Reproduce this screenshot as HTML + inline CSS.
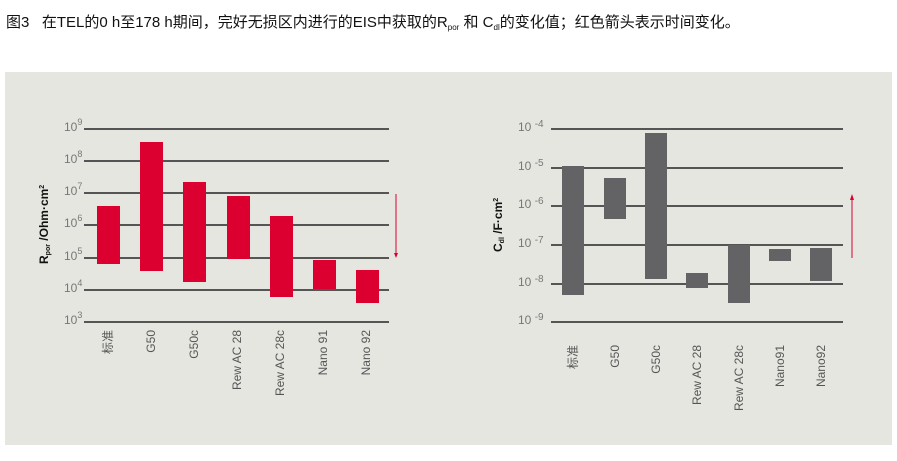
<!DOCTYPE html>
<html><head><meta charset="utf-8"><style>
body{margin:0;background:#fff;width:897px;height:461px;overflow:hidden}
svg{display:block;font-family:"Liberation Sans","Noto Sans CJK SC",sans-serif}
</style></head><body>
<svg width="897" height="461" viewBox="0 0 897 461" xmlns="http://www.w3.org/2000/svg">
<text x="6" y="27" font-size="15" fill="#111" xml:space="preserve">图3   在TEL的0 h至178 h期间，完好无损区内进行的EIS中获取的R<tspan font-size="8" dy="3">por</tspan><tspan dy="-3"> 和 C</tspan><tspan font-size="8" dy="3">dl</tspan><tspan dy="-3">的变化值；红色箭头表示时间变化。</tspan></text>
<rect x="5" y="72" width="887" height="373" fill="#e6e6e1"/>
<g stroke="#555" stroke-width="2">
<line x1="84" y1="129" x2="389" y2="129"/><line x1="84" y1="161" x2="389" y2="161"/><line x1="84" y1="193" x2="389" y2="193"/><line x1="84" y1="225" x2="389" y2="225"/><line x1="84" y1="258" x2="389" y2="258"/><line x1="84" y1="290" x2="389" y2="290"/><line x1="84" y1="322" x2="389" y2="322"/>
<line x1="551" y1="129" x2="843" y2="129"/><line x1="551" y1="168" x2="843" y2="168"/><line x1="551" y1="206" x2="843" y2="206"/><line x1="551" y1="245" x2="843" y2="245"/><line x1="551" y1="284" x2="843" y2="284"/><line x1="551" y1="322" x2="843" y2="322"/>
</g>
<g fill="#dc0030">
<rect x="97" y="206" width="23" height="58"/><rect x="140" y="142" width="23" height="129"/><rect x="183" y="182" width="23" height="100"/><rect x="227" y="196" width="23" height="63"/><rect x="270" y="216" width="23" height="81"/><rect x="313" y="260" width="23" height="29"/><rect x="356" y="270" width="23" height="33"/>
</g>
<line x1="396" y1="194" x2="396" y2="254" stroke="#dc0030" stroke-width="1"/><polygon points="394,253 398,253 396,258" fill="#dc0030"/>
<g fill="#636365">
<rect x="562" y="166" width="22" height="129"/><rect x="604" y="178" width="22" height="41"/><rect x="645" y="133" width="22" height="146"/><rect x="686" y="273" width="22" height="15"/><rect x="728" y="245" width="22" height="58"/><rect x="769" y="249" width="22" height="12"/><rect x="810" y="248" width="22" height="33"/>
</g>
<line x1="852" y1="199" x2="852" y2="258" stroke="#dc0030" stroke-width="1"/><polygon points="850,200 854,200 852,194" fill="#dc0030"/>
<g font-size="12" fill="#777">
<text x="64" y="131">10<tspan font-size="9" dy="-6">9</tspan></text>
<text x="64" y="163">10<tspan font-size="9" dy="-6">8</tspan></text>
<text x="64" y="195">10<tspan font-size="9" dy="-6">7</tspan></text>
<text x="64" y="227">10<tspan font-size="9" dy="-6">6</tspan></text>
<text x="64" y="260">10<tspan font-size="9" dy="-6">5</tspan></text>
<text x="64" y="292">10<tspan font-size="9" dy="-6">4</tspan></text>
<text x="64" y="324">10<tspan font-size="9" dy="-6">3</tspan></text>
<text x="518" y="131" xml:space="preserve">10 <tspan font-size="10" dy="-4">-4</tspan></text>
<text x="518" y="170" xml:space="preserve">10 <tspan font-size="10" dy="-4">-5</tspan></text>
<text x="518" y="208" xml:space="preserve">10 <tspan font-size="10" dy="-4">-6</tspan></text>
<text x="518" y="247" xml:space="preserve">10 <tspan font-size="10" dy="-4">-7</tspan></text>
<text x="518" y="286" xml:space="preserve">10 <tspan font-size="10" dy="-4">-8</tspan></text>
<text x="518" y="324" xml:space="preserve">10 <tspan font-size="10" dy="-4">-9</tspan></text>
</g>
<g font-size="12" fill="#111" font-weight="bold">
<text transform="translate(48,264) rotate(-90)">R<tspan font-size="7" dy="2">por</tspan><tspan dy="-2"> /Ohm·cm</tspan><tspan font-size="7" dy="-4">2</tspan></text>
<text transform="translate(502,252) rotate(-90)">C<tspan font-size="7" dy="2">dl</tspan><tspan dy="-2"> /F·cm</tspan><tspan font-size="7" dy="-4">2</tspan></text>
</g>
<g font-size="12" fill="#555" text-anchor="end">
<text transform="translate(112,330) rotate(-90)">标准</text>
<text transform="translate(155,330) rotate(-90)">G50</text>
<text transform="translate(198,330) rotate(-90)">G50c</text>
<text transform="translate(241,330) rotate(-90)">Rew AC 28</text>
<text transform="translate(284,330) rotate(-90)">Rew AC 28c</text>
<text transform="translate(327,330) rotate(-90)">Nano 91</text>
<text transform="translate(370,330) rotate(-90)">Nano 92</text>
<text transform="translate(577,345) rotate(-90)">标准</text>
<text transform="translate(619,345) rotate(-90)">G50</text>
<text transform="translate(660,345) rotate(-90)">G50c</text>
<text transform="translate(701,345) rotate(-90)">Rew AC 28</text>
<text transform="translate(743,345) rotate(-90)">Rew AC 28c</text>
<text transform="translate(784,345) rotate(-90)">Nano91</text>
<text transform="translate(825,345) rotate(-90)">Nano92</text>
</g>
</svg>
</body></html>
